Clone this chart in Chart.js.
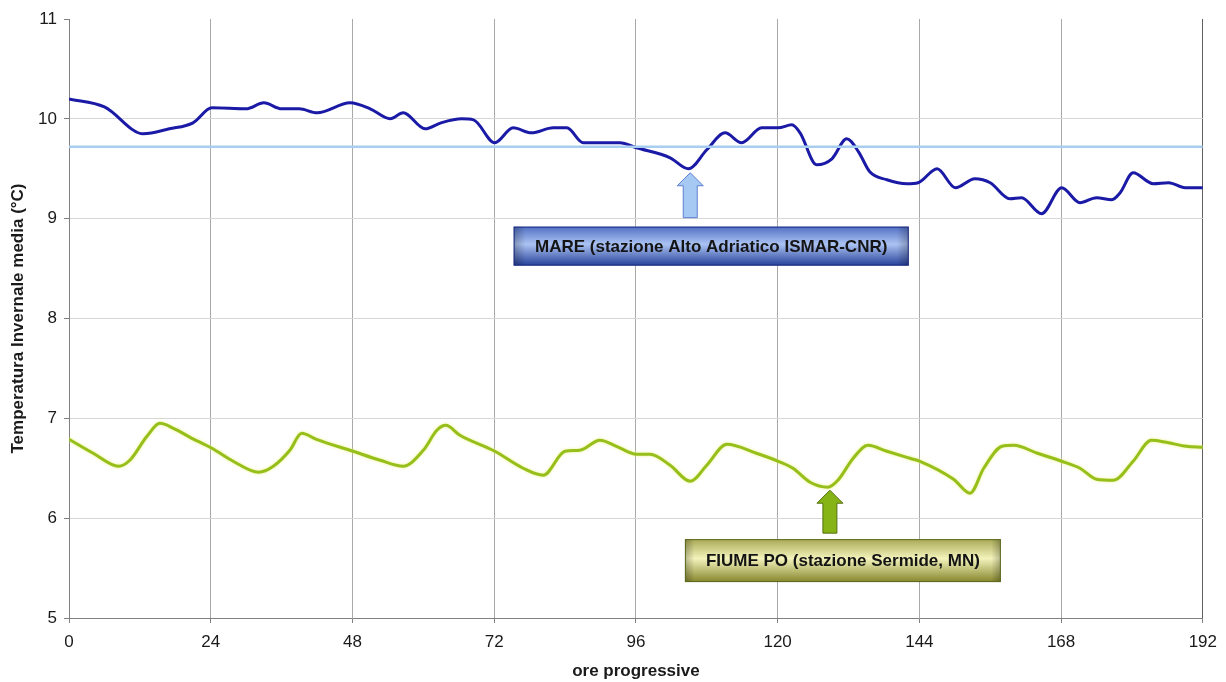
<!DOCTYPE html>
<html>
<head>
<meta charset="utf-8">
<script src="https://cdn.jsdelivr.net/npm/chart.js@4/dist/chart.umd.min.js"></script>
<style>
    body { margin: 0; background: #fff; }
    #chart { display: block; }
</style>
</head>
<body>
<canvas id="chart" width="1226" height="682"></canvas>
<script>
// ore progressive / temperatura
var mareHours = [0, 6, 12.6, 17, 21, 24.2, 30, 33, 36, 39, 42, 47.6, 51, 54.4, 56.6, 60.3, 63, 66.5, 68.5, 72.1, 75.2, 78.3, 82, 84.3, 87.1, 93.3, 96.1, 101.8, 104.9, 108, 111.1, 113.9, 117.3, 120.1, 122.4, 123.8, 126.6, 129.2, 131.7, 133.7, 135.6, 138.5, 141.9, 143.8, 147, 150.1, 153.4, 156, 159.3, 161.3, 164.7, 168.1, 171.2, 174, 176.6, 178, 180.2, 183.6, 186.2, 189, 192];
var mareTemp = [10.2, 10.12, 9.85, 9.9, 9.96, 10.11, 10.1, 10.16, 10.1, 10.1, 10.06, 10.16, 10.1, 10.0, 10.06, 9.9, 9.96, 10.0, 9.99, 9.76, 9.91, 9.86, 9.91, 9.91, 9.76, 9.76, 9.71, 9.61, 9.5, 9.69, 9.86, 9.76, 9.91, 9.91, 9.94, 9.86, 9.54, 9.6, 9.8, 9.67, 9.47, 9.39, 9.35, 9.36, 9.5, 9.31, 9.4, 9.36, 9.2, 9.21, 9.05, 9.31, 9.16, 9.21, 9.19, 9.26, 9.46, 9.35, 9.36, 9.31, 9.31];

var poHours = [0, 4.1, 8.4, 10.3, 13.2, 15.4, 17.7, 20.5, 24.2, 27.8, 32.1, 34.6, 37.4, 39.4, 41.9, 48.1, 52.7, 56.6, 60, 62.3, 63.8, 66.2, 72.1, 76.9, 80.3, 84, 86.5, 89.9, 92.7, 96.1, 98.4, 101.8, 105.2, 108, 111.4, 116.4, 120.1, 122.6, 125.5, 128.5, 130.2, 132.8, 135.3, 138.5, 142.4, 144.1, 149.8, 152.6, 154.9, 158, 160, 164, 168.1, 171.2, 174, 176.9, 180.2, 183.3, 185.8, 189.2, 192];
var poTemp = [6.79, 6.65, 6.52, 6.58, 6.82, 6.95, 6.9, 6.81, 6.7, 6.57, 6.46, 6.52, 6.68, 6.85, 6.79, 6.67, 6.58, 6.52, 6.68, 6.88, 6.93, 6.83, 6.67, 6.5, 6.43, 6.67, 6.68, 6.78, 6.72, 6.64, 6.64, 6.53, 6.37, 6.53, 6.74, 6.65, 6.57, 6.5, 6.36, 6.31, 6.38, 6.6, 6.73, 6.67, 6.6, 6.57, 6.39, 6.25, 6.5, 6.72, 6.73, 6.65, 6.57, 6.5, 6.39, 6.38, 6.57, 6.78, 6.76, 6.72, 6.71];

// linea orizzontale azzurra (media mare)
var refHours = [0, 192];
var refTemp = [9.72, 9.72];

var xTicks = [0, 24, 48, 72, 96, 120, 144, 168, 192];
var yTicks = [5, 6, 7, 8, 9, 10, 11];

function toPoints(xs, ys) {
    return xs.map(function (x, i) { return { x: x, y: ys[i] }; });
}

// etichette con freccia (coordinate nei valori degli assi)
var labels = [
    {
        text: 'MARE (stazione Alto Adriatico ISMAR-CNR)',
        x0: 75.3, x1: 142.2, yTop: 8.92, yBot: 8.53,
        arrowX: 105.2, tipY: 9.46, baseY: 9.01,
        grad: ['#5270c4', '#abc3f2', '#26409a'], border: '#1f2f80',
        arrowFill: '#a6c9f3', arrowStroke: '#5b7fd0'
    },
    {
        text: 'FIUME PO (stazione Sermide, MN)',
        x0: 104.3, x1: 157.8, yTop: 5.79, yBot: 5.36,
        arrowX: 128.85, tipY: 6.28, baseY: 5.85,
        grad: ['#a9a955', '#f3f3bc', '#86862c'], border: '#5a6a20',
        arrowFill: '#86b316', arrowStroke: '#55700f'
    }
];

var labelPlugin = {
    id: 'labelBoxes',
    beforeDatasetDraw: function (chart, args) {
        if (args.index === 2) {
            var ctx = chart.ctx;
            ctx.save();
            ctx.shadowColor = 'rgba(235,240,120,0.9)';
            ctx.shadowBlur = 3;
        }
    },
    afterDatasetDraw: function (chart, args) {
        if (args.index === 2) chart.ctx.restore();
    },
    afterDatasetsDraw: function (chart) {
        var ctx = chart.ctx,
            xs = chart.scales.x,
            ys = chart.scales.y;
        labels.forEach(function (l) {
            // freccia
            var cx = xs.getPixelForValue(l.arrowX),
                tip = ys.getPixelForValue(l.tipY),
                base = ys.getPixelForValue(l.baseY),
                head = 13, hw = 13, sw = 7;
            ctx.save();
            ctx.beginPath();
            ctx.moveTo(cx, tip);
            ctx.lineTo(cx + hw, tip + head);
            ctx.lineTo(cx + sw, tip + head);
            ctx.lineTo(cx + sw, base);
            ctx.lineTo(cx - sw, base);
            ctx.lineTo(cx - sw, tip + head);
            ctx.lineTo(cx - hw, tip + head);
            ctx.closePath();
            ctx.fillStyle = l.arrowFill;
            ctx.fill();
            ctx.lineWidth = 1;
            ctx.strokeStyle = l.arrowStroke;
            ctx.stroke();

            // riquadro
            var x0 = xs.getPixelForValue(l.x0),
                x1 = xs.getPixelForValue(l.x1),
                y0 = ys.getPixelForValue(l.yTop),
                y1 = ys.getPixelForValue(l.yBot);
            var g = ctx.createLinearGradient(0, y0, 0, y1);
            g.addColorStop(0, l.grad[0]);
            g.addColorStop(0.45, l.grad[1]);
            g.addColorStop(1, l.grad[2]);
            ctx.fillStyle = g;
            ctx.fillRect(x0, y0, x1 - x0, y1 - y0);
            var h = ctx.createLinearGradient(x0, 0, x1, 0);
            h.addColorStop(0, 'rgba(0,0,0,0.25)');
            h.addColorStop(0.03, 'rgba(0,0,0,0)');
            h.addColorStop(0.97, 'rgba(0,0,0,0)');
            h.addColorStop(1, 'rgba(0,0,0,0.25)');
            ctx.fillStyle = h;
            ctx.fillRect(x0, y0, x1 - x0, y1 - y0);
            ctx.strokeStyle = l.border;
            ctx.strokeRect(x0 + 0.5, y0 + 0.5, x1 - x0 - 1, y1 - y0 - 1);

            ctx.fillStyle = '#141414';
            ctx.font = 'bold 17px "Liberation Sans", Arial, sans-serif';
            ctx.textAlign = 'center';
            ctx.textBaseline = 'middle';
            ctx.fillText(l.text, (x0 + x1) / 2, (y0 + y1) / 2 + 1);
            ctx.restore();
        });
    }
};

var tickFont = { family: '"Liberation Sans", Arial, sans-serif', size: 17 };
var titleFont = { family: '"Liberation Sans", Arial, sans-serif', size: 17, weight: 'bold' };

new Chart(document.getElementById('chart').getContext('2d'), {
    type: 'line',
    data: {
        datasets: [
            {
                data: toPoints(refHours, refTemp),
                borderColor: '#a7cdf0',
                borderWidth: 2.5,
                pointRadius: 0,
                tension: 0
            },
            {
                data: toPoints(mareHours, mareTemp),
                borderColor: '#1a1aa6',
                borderWidth: 3,
                pointRadius: 0,
                cubicInterpolationMode: 'monotone'
            },
            {
                data: toPoints(poHours, poTemp),
                borderColor: '#96bf1c',
                borderWidth: 3,
                pointRadius: 0,
                cubicInterpolationMode: 'monotone'
            }
        ]
    },
    options: {
        responsive: false,
        animation: false,
        layout: { padding: { left: 0, right: 23, top: 19, bottom: 0 } },
        plugins: {
            legend: { display: false },
            tooltip: { enabled: false }
        },
        scales: {
            x: {
                type: 'linear',
                min: 0,
                max: 192,
                afterBuildTicks: function (s) { s.ticks = xTicks.map(function (v) { return { value: v }; }); },
                afterFit: function (s) { s.height = 64; },
                ticks: { font: tickFont, color: '#1a1a1a', padding: 9, maxRotation: 0 },
                grid: {
                    color: function (c) {
                        if (c.tick.value === 192) return '#606060';
                        if (c.tick.value === 0) return 'rgba(0,0,0,0)';
                        return '#a9a9a9';
                    },
                    tickColor: '#808080',
                    tickLength: 5
                },
                border: { color: '#808080' },
                title: {
                    display: true,
                    text: 'ore progressive',
                    font: titleFont,
                    color: '#1a1a1a',
                    padding: { top: 0, bottom: 0 }
                }
            },
            y: {
                min: 5,
                max: 11,
                afterBuildTicks: function (s) { s.ticks = yTicks.map(function (v) { return { value: v }; }); },
                afterFit: function (s) { s.width = 69; },
                ticks: { font: tickFont, color: '#1a1a1a', padding: 7 },
                grid: {
                    color: function (c) {
                        if (c.tick.value === 11 || c.tick.value === 5) return 'rgba(0,0,0,0)';
                        return '#d6d6d6';
                    },
                    tickColor: '#808080',
                    tickLength: 5
                },
                border: { color: '#808080' },
                title: {
                    display: true,
                    text: 'Temperatura Invernale media (°C)',
                    font: titleFont,
                    color: '#1a1a1a',
                    padding: { top: 8, bottom: 0 }
                }
            }
        }
    },
    plugins: [labelPlugin]
});
</script>
</body>
</html>
